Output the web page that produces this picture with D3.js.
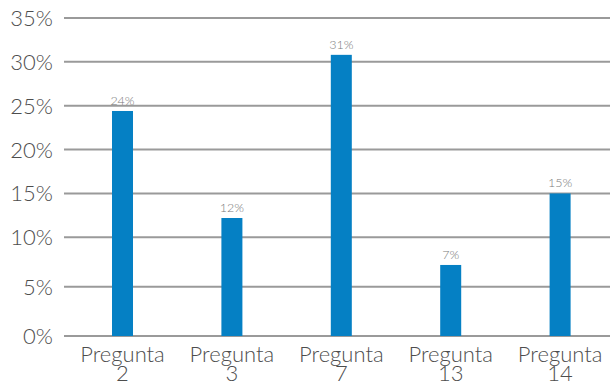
<!DOCTYPE html>
<html>
<head>
<meta charset="utf-8">
<script src="https://cdn.jsdelivr.net/npm/d3@7"></script>
<style>
  html, body { margin: 0; padding: 0; background: #ffffff; }
  svg { display: block; font-family: Lato, "Open Sans", sans-serif; }
</style>
</head>
<body>
<svg id="chart" width="610" height="383"></svg>
<script>
// Share of answers per question
const categories = ["Pregunta 2", "Pregunta 3", "Pregunta 7", "Pregunta 13", "Pregunta 14"];
const values = [0.244, 0.122, 0.308, 0.072, 0.150];
const yTicks = [0, 0.05, 0.10, 0.15, 0.20, 0.25, 0.30, 0.35];

const svg = d3.select("#chart");
const gridLeft = 64, gridRight = 610;

// Vertical scale (the two lowest bands sit a little taller than the rest)
const y = d3.scaleLinear()
  .domain([0, 0.05, 0.10, 0.35])
  .range([336, 286.7, 237.3, 18]);

// Horizontal band scale for the bars
const x = d3.scaleBand()
  .domain(categories)
  .range([112, 112 + 109.4 * (5 - 0.808)])
  .paddingInner(0.808)
  .paddingOuter(0);

const pct = d3.format(".0%");

// Gridlines
svg.append("g")
  .selectAll("line")
  .data(yTicks)
  .join("line")
  .attr("x1", gridLeft)
  .attr("x2", gridRight)
  .attr("y1", d => y(d))
  .attr("y2", d => y(d))
  .attr("stroke", "#9a9a9a")
  .attr("stroke-width", 2);

// Y axis labels
svg.append("g")
  .selectAll("text")
  .data(yTicks)
  .join("text")
  .attr("x", 53)
  .attr("y", d => y(d) + 8)
  .attr("text-anchor", "end")
  .attr("font-size", 22)
  .attr("font-weight", 300)
  .attr("fill", "#4d4d4d")
  .text(d => pct(d));

// Bars
svg.append("g")
  .selectAll("rect")
  .data(values)
  .join("rect")
  .attr("x", (d, i) => x(categories[i]))
  .attr("width", x.bandwidth())
  .attr("y", d => y(d))
  .attr("height", d => y(0) - y(d))
  .attr("fill", "#0580c4");

// Value labels above bars
svg.append("g")
  .selectAll("text")
  .data(values)
  .join("text")
  .attr("x", (d, i) => x(categories[i]) + x.bandwidth() / 2)
  .attr("y", d => y(d) - 6)
  .attr("text-anchor", "middle")
  .attr("font-size", 12.5)
  .attr("font-weight", 300)
  .attr("fill", "#7a7a7a")
  .text(d => pct(d));

// Category labels, wrapped onto two lines
const cat = svg.append("g")
  .selectAll("text")
  .data(categories)
  .join("text")
  .attr("text-anchor", "middle")
  .attr("font-size", 22)
  .attr("font-weight", 300)
  .attr("fill", "#4d4d4d");

cat.each(function(d) {
  const cx = x(d) + x.bandwidth() / 2;
  const parts = d.split(" ");
  d3.select(this).selectAll("tspan")
    .data(parts)
    .join("tspan")
    .attr("x", cx)
    .attr("y", (p, j) => 362 + j * 19)
    .text(p => p);
});
</script>
</body>
</html>
